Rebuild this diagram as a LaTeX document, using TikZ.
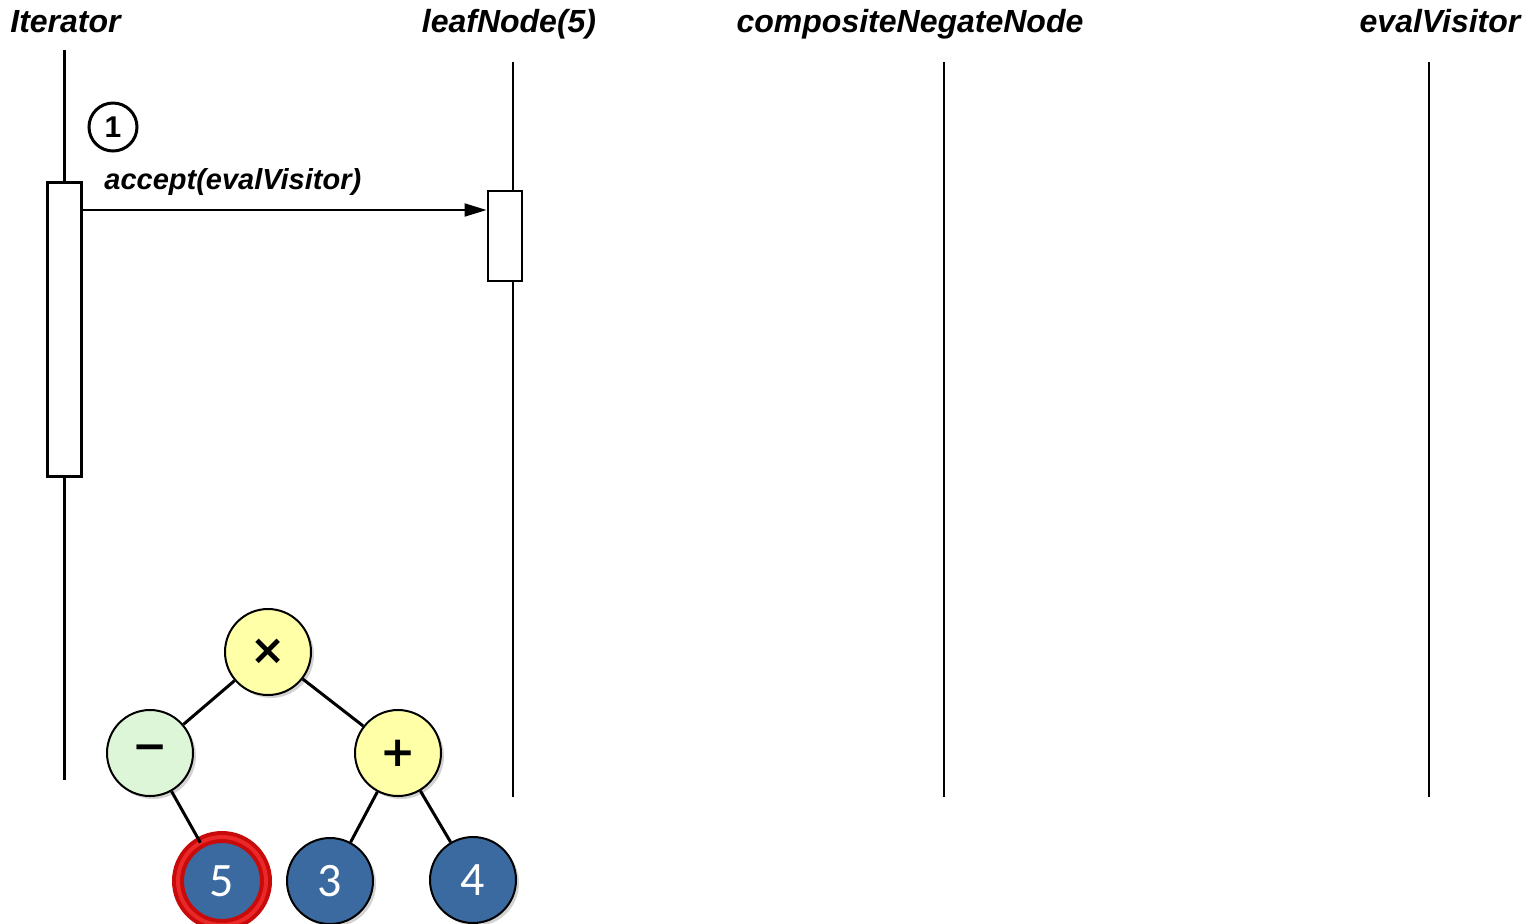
\documentclass[tikz,border=0pt]{standalone}
\usepackage{fontspec}
\setmainfont{Liberation Sans}
\newfontfamily\calib{Carlito}
\newfontfamily\symfont{DejaVu Sans}
\usetikzlibrary{arrows.meta,shadows}
\definecolor{opyellow}{RGB}{255,255,168}
\definecolor{opgreen}{RGB}{222,246,216}
\definecolor{leafblue}{RGB}{58,106,160}
\definecolor{ringred}{RGB}{200,10,10}
\definecolor{ringlight}{RGB}{235,40,40}
\tikzset{
  title/.style={font=\fontsize{16}{19}\selectfont\bfseries\itshape, inner sep=0pt, anchor=base},
  lifeline/.style={line width=1pt},
  actbox/.style={draw, fill=white, line width=1pt, inner sep=0pt, minimum width=17pt},
  msg/.style={line width=1pt, -{Triangle[length=11pt,width=6.5pt]}},
  opnode/.style={circle, draw, line width=1pt, minimum size=43pt, inner sep=0pt,
    drop shadow={shadow xshift=1.5pt, shadow yshift=-1.5pt, opacity=0.35},
    font=\symfont\bfseries\fontsize{21}{23}\selectfont},
  leafnode/.style={opnode, fill=leafblue, text=white, font=\calib\fontsize{24}{26}\selectfont},
  edge/.style={line width=1.5pt},
}
\begin{document}
\begin{tikzpicture}[x=0.5pt,y=-0.5pt]
  \useasboundingbox (0,0) rectangle (1529,923);
  \clip (0,0) rectangle (1529,923);

  % object headers
  \node[title, anchor=base west] (tIter) at (10,32) {Iterator};
  \node[title] (tLeaf) at (509,32) {leafNode(5)};
  \node[title] (tComp) at (910,32) {compositeNegateNode};
  \node[title] (tEval) at (1440,32) {evalVisitor};

  % lifelines
  \coordinate (iterTop) at (64,50);   \coordinate (iterBot) at (64,780);
  \coordinate (leafTop) at (513,62);  \coordinate (leafBot) at (513,797);
  \coordinate (compTop) at (944,62);  \coordinate (compBot) at (944,797);
  \coordinate (evalTop) at (1429,62); \coordinate (evalBot) at (1429,797);
  \draw[line width=1.5pt] (iterTop) -- (iterBot);
  \draw[lifeline] (leafTop) -- (leafBot);
  \draw[lifeline] (compTop) -- (compBot);
  \draw[lifeline] (evalTop) -- (evalBot);

  % activations
  \node[actbox, line width=1.5pt, minimum height=147pt] (actIter) at (64.5,329) {};
  \node[actbox, minimum height=45pt] (actLeaf) at (504.5,236) {};

  % message 1
  \node[circle, draw, line width=1.5pt, minimum size=24pt, inner sep=0pt,
        font=\fontsize{15}{17}\selectfont\bfseries] (step1) at (113,127) {1};
  \draw[msg] (actIter.east |- 0,210) -- (actLeaf.west |- 0,210);
  \node[font=\fontsize{14.5}{17}\selectfont\bfseries\itshape, anchor=base west, inner sep=0pt]
        (lblAccept) at (104,189) {accept(evalVisitor)};

  % expression tree
  \node[opnode, fill=opyellow] (times) at (268,652) {×};
  \node[opnode, fill=opgreen] (minus) at (150,753) {−};
  \node[opnode, fill=opyellow] (plus) at (398,753) {+};
  \node[leafnode] (five) at (222,881) {5};
  \node[leafnode] (three) at (330,881) {3};
  \node[leafnode] (four) at (473,880) {4};
  % highlight ring round the visited leaf
  \draw[ringred, line width=6pt] (five) circle[radius=22pt];
  \draw[ringlight, line width=2pt] (five) circle[radius=22pt];
  \draw[edge] (times) -- (minus);
  \draw[edge] (times) -- (plus);
  \draw[edge] (minus) -- (five);
  \draw[edge] (plus) -- (three);
  \draw[edge] (plus) -- (four);
\end{tikzpicture}
\end{document}
